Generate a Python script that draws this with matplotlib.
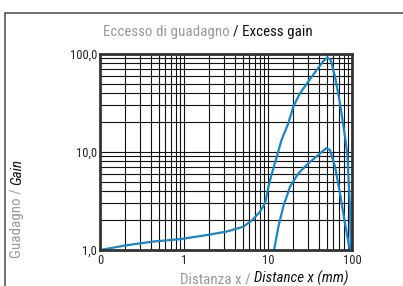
import matplotlib
matplotlib.use("Agg")
import matplotlib.pyplot as plt
from matplotlib.patches import Rectangle
from matplotlib.ticker import FixedLocator, FixedFormatter, LogLocator, NullFormatter
from matplotlib import font_manager

# Curve readings (distance in mm, gain)
dist_a = [0.1, 0.21, 0.43, 0.9, 1.86, 3.2, 5.1, 6.5, 8.0, 8.9, 9.4, 10.1, 11.1, 12.7, 14.5,
          17.5, 20.0, 24.0, 30.2, 38.0, 45.6, 50.8, 55.7, 62.8, 72.0, 82.6, 88.0, 90.4, 94.6, 97.0, 97.5]
gain_a = [1.0, 1.12, 1.22, 1.29, 1.42, 1.54, 1.73, 2.02, 2.45, 2.85, 3.2, 4.4, 6.0, 8.9, 13.3,
          19.7, 29.0, 39.6, 52.4, 68.7, 84.8, 92.0, 87.0, 58.7, 31.3, 14.3, 9.5, 6.0, 2.77, 1.08, 1.0]

dist_b = [11.8, 13.3, 15.2, 18.3, 23.0, 30.2, 39.7, 49.0, 54.7, 62.8, 72.0, 82.6, 92.5, 94.0]
gain_b = [1.0, 1.73, 2.77, 4.43, 6.06, 7.66, 9.32, 10.9, 10.5, 7.1, 3.79, 1.87, 1.08, 1.0]

x_ticks = [0.1, 1, 10, 100]
x_labels = ["0", "1", "10", "100"]
y_ticks = [1, 10, 100]
y_labels = ["1,0", "10,0", "100,0"]

names = {f.name for f in font_manager.fontManager.ttflist}
narrow = [n for n in ("Roboto Condensed", "Liberation Sans Narrow", "DejaVu Sans Condensed") if n in names]
plt.rcParams["font.family"] = narrow + ["Roboto", "DejaVu Sans"]
gray = "#9a9a9a"
blue = "#1a86c8"

fig = plt.figure(figsize=(4.03, 2.86), dpi=100)
ax = fig.add_axes([100 / 403, 1 - 250 / 286, 252 / 403, 196 / 286])

ax.plot(dist_a, gain_a, color=blue, lw=1.6, solid_joinstyle="round")
ax.plot(dist_b, gain_b, color=blue, lw=1.6, solid_joinstyle="round")

ax.set_xscale("log")
ax.set_yscale("log")
ax.set_xlim(0.1, 100)
ax.set_ylim(1, 100)

ax.xaxis.set_major_locator(FixedLocator(x_ticks))
ax.xaxis.set_major_formatter(FixedFormatter(x_labels))
ax.yaxis.set_major_locator(FixedLocator(y_ticks))
ax.yaxis.set_major_formatter(FixedFormatter(y_labels))
for a in (ax.xaxis, ax.yaxis):
    a.set_minor_locator(LogLocator(base=10, subs=range(2, 10)))
    a.set_minor_formatter(NullFormatter())

ax.grid(True, which="both", color="#111111", lw=0.8)
ax.tick_params(which="both", length=0, labelsize=9, colors="#222222")
ax.tick_params(axis="x", pad=3)
ax.tick_params(axis="y", pad=2)
for s in ax.spines.values():
    s.set_linewidth(2)
    s.set_color("#333333")

# outer frame
fig.patches.append(Rectangle((5 / 403, -0.1), 1.2, 1 - 13 / 286 + 0.1,
                             transform=fig.transFigure, fill=False,
                             edgecolor="#555555", lw=1.2))

fs = 10.8

# title in two colours
t1 = fig.text(103 / 403, 1 - 39 / 286, "Eccesso di guadagno ", ha="left",
              va="bottom", color=gray, fontsize=fs)
ax.annotate("/ Excess gain", xy=(1, 0), xycoords=t1, ha="left", va="bottom",
            color="#111111", fontsize=fs, annotation_clip=False)

# x label
t2 = fig.text(180 / 403, 1 - 286 / 286, "Distanza x / ", ha="left",
              va="bottom", color=gray, fontsize=fs)
ax.annotate("Distance x (mm)", xy=(1, 0), xycoords=t2, ha="left", va="bottom",
            color="#111111", fontsize=fs, style="italic", annotation_clip=False)

# y label
t3 = fig.text(10 / 403, 1 - 258 / 286, "Guadagno / ", ha="left", va="bottom",
              rotation=90, color=gray, fontsize=fs)
ax.annotate("Gain", xy=(0, 1), xycoords=t3, ha="left", va="bottom",
            rotation=90, color="#111111", fontsize=fs, style="italic",
            annotation_clip=False)

fig.savefig("out.png", dpi=100)
